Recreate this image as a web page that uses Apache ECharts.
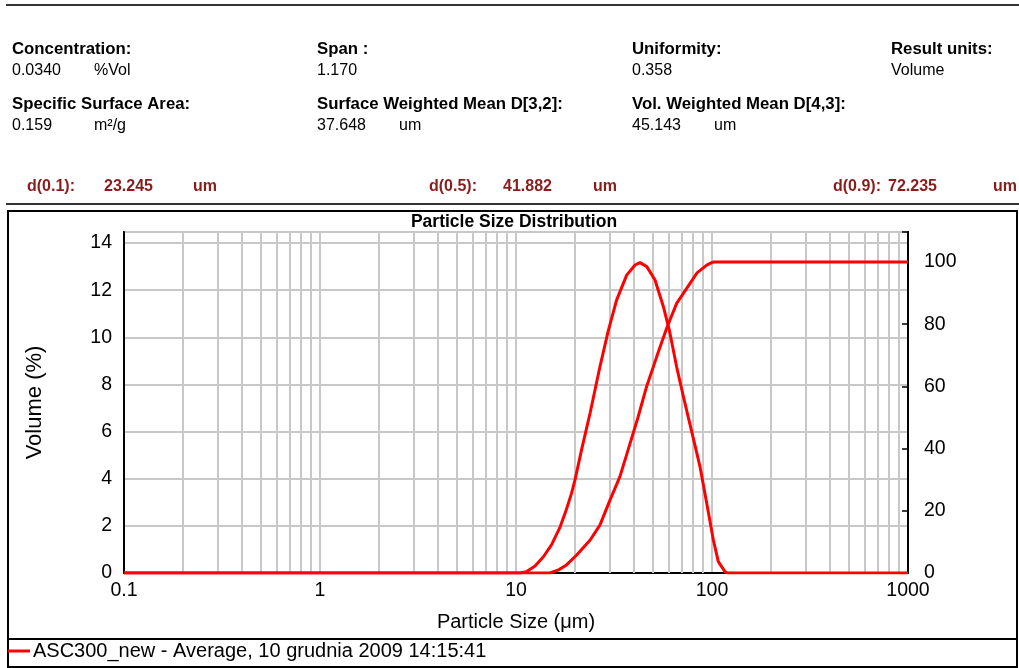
<!doctype html>
<html>
<head>
<meta charset="utf-8">
<title>Particle Size Distribution</title>
<script src="https://cdn.jsdelivr.net/npm/echarts@6/dist/echarts.min.js"></script>
<style>
  html, body { margin: 0; padding: 0; background: #fff; }
  #container { width: 1019px; height: 668px; }
</style>
</head>
<body>
<div id="container"></div>
<script type="text/javascript">
// header texts
var infoLabels = ['Concentration:', 'Span :', 'Uniformity:', 'Result units:',
                  'Specific Surface Area:', 'Surface Weighted Mean D[3,2]:', 'Vol. Weighted Mean D[4,3]:'];
var infoValues = ['0.0340', '1.170', '0.358', 'Volume', '0.159', '37.648', '45.143'];
var infoUnits  = ['%Vol', '', '', '', 'm\u00b2/g', 'um', 'um'];
var dLabels = ['d(0.1):', 'd(0.5):', 'd(0.9):'];
var dValues = ['23.245', '41.882', '72.235'];
var dUnits  = ['um', 'um', 'um'];

var chartTitle = 'Particle Size Distribution';
var sampleName = 'ASC300_new - Average, 10 grudnia 2009 14:15:41';

// frequency curve (Volume %)
var freqSize = [0.1, 10.5, 11.3, 12.5, 13.8, 15.2, 16.8, 18.0, 19.2, 20.0, 21.7, 23.9, 26.8, 29.6,
                32.6, 36.7, 40.5, 42.9, 46.5, 51.2, 56.5, 60.6, 66.0, 71.4, 75.7, 78.8, 86.9,
                94.0, 101.6, 107.7, 116.4, 120, 1000];
var freqVol  = [0, 0, 0.05, 0.3, 0.69, 1.2, 1.96, 2.65, 3.38, 3.95, 5.3, 6.8, 8.75, 10.3,
                11.58, 12.64, 13.07, 13.17, 13.0, 12.43, 11.3, 10.3, 8.75, 7.5, 6.6, 6.0, 4.5,
                2.96, 1.4, 0.48, 0.06, 0, 0];

// cumulative curve (right axis)
var cumSize = [0.1, 14.9, 16.5, 18.1, 20.4, 23.9, 26.8, 30.2, 33.9, 38.2, 41.9, 46.4, 52.2,
               58.7, 66.0, 74.3, 83.6, 94.0, 99.5, 102, 1000];
var cumVol  = [0, 0, 1.0, 2.6, 5.8, 10.6, 15.4, 23.5, 31, 41.7, 50, 60, 69.5,
               78.7, 86.7, 91.5, 96.4, 99.0, 99.8, 100, 100];

var xTicks = [0.1, 1, 10, 100, 1000];

var FONT = '"Liberation Sans", Arial, sans-serif';
var RED = '#ff0000';
var DRED = '#8b1c1c';

function pairs(xs, ys) {
  return xs.map(function (x, i) { return [x, ys[i]]; });
}

// minor log grid lines (2..9 in every decade)
var minorLines = [];
for (var d = 0; d < xTicks.length - 1; d++) {
  for (var k = 2; k <= 9; k++) {
    minorLines.push({ xAxis: +(xTicks[d] * k).toPrecision(3) });
  }
}

// header graphics
var graphics = [];
function txt(s, x, y, font, color) {
  graphics.push({
    type: 'text', x: x, y: y, silent: true,
    style: { text: s, fill: color || '#000', font: font + ' ' + FONT, verticalAlign: 'top' }
  });
}
var colX = [12, 317, 632, 891];
var rowY = [[41, 63], [96, 118]];
for (var i = 0; i < infoLabels.length; i++) {
  var r = i < 4 ? 0 : 1;
  var c = i < 4 ? i : i - 4;
  txt(infoLabels[i], colX[c], rowY[r][0], 'bold 16.8px');
  txt(infoValues[i], colX[c], rowY[r][1], '16px');
  if (infoUnits[i]) txt(infoUnits[i], colX[c] + 82, rowY[r][1], '16px');
}
var dLabelX = [27, 429, 833], dValueX = [104, 503, 888], dUnitX = [193, 593, 993];
for (var j = 0; j < dLabels.length; j++) {
  txt(dLabels[j], dLabelX[j], 179, 'bold 16px', DRED);
  txt(dValues[j], dValueX[j], 179, 'bold 16px', DRED);
  txt(dUnits[j], dUnitX[j], 179, 'bold 16px', DRED);
}
graphics.push(
  { type: 'line', silent: true, shape: { x1: 6, y1: 5, x2: 1019, y2: 5 }, style: { stroke: '#333', lineWidth: 2 } },
  { type: 'line', silent: true, shape: { x1: 6, y1: 204, x2: 1019, y2: 204 }, style: { stroke: '#333', lineWidth: 2 } },
  { type: 'rect', silent: true, shape: { x: 8, y: 211, width: 1009, height: 456 }, style: { fill: 'none', stroke: '#000', lineWidth: 2 } },
  { type: 'line', silent: true, shape: { x1: 8, y1: 639, x2: 1017, y2: 639 }, style: { stroke: '#000', lineWidth: 2 } },
  {
    type: 'text', x: 514, y: 213, silent: true,
    style: { text: chartTitle, fill: '#000', font: 'bold 17.5px ' + FONT, align: 'center', verticalAlign: 'top' }
  }
);

var option = {
  animation: false,
  backgroundColor: '#fff',
  textStyle: { fontFamily: FONT },
  graphic: graphics,
  legend: {
    left: 8, top: 641, padding: 0,
    icon: 'rect', itemWidth: 22, itemHeight: 3,
    selectedMode: false,
    data: [sampleName],
    textStyle: { fontSize: 20, color: '#000', fontFamily: FONT, padding: [0, 0, 0, -2] }
  },
  grid: {
    left: 124, right: 111, top: 232, bottom: 95,
    show: true, borderColor: '#000', borderWidth: 2
  },
  xAxis: {
    type: 'log', logBase: 10, min: 0.1, max: 1000,
    name: 'Particle Size (\u03bcm)', nameLocation: 'middle', nameGap: 39,
    nameTextStyle: { fontSize: 20, color: '#000', fontFamily: FONT },
    axisLine: { show: true, lineStyle: { color: '#000', width: 2 } },
    axisTick: { show: false },
    axisLabel: {
      fontSize: 19.5, color: '#000', margin: 8, fontFamily: FONT,
      formatter: function (v) { return String(+(+v).toPrecision(6)); }
    },
    splitLine: { show: true, lineStyle: { color: '#c8c8c8', width: 2 } }
  },
  yAxis: [{
    type: 'value', min: 0, max: 14.47, interval: 2,
    name: 'Volume (%)', nameLocation: 'middle', nameGap: 78,
    nameTextStyle: { fontSize: 22, color: '#000', fontFamily: FONT },
    axisLine: { show: true, lineStyle: { color: '#000', width: 2 } },
    axisTick: { show: false },
    axisLabel: {
      fontSize: 19.5, color: '#000', margin: 12, fontFamily: FONT,
      formatter: function (v) { return Math.abs(v / 2 - Math.round(v / 2)) < 1e-6 ? String(Math.round(v)) : ''; }
    },
    splitLine: { show: true, lineStyle: { color: '#c8c8c8', width: 2 } }
  }, {
    type: 'value', position: 'right', min: 0, max: 109.65, interval: 20,
    axisLine: { show: true, lineStyle: { color: '#000', width: 2 } },
    axisTick: { show: true, inside: true, length: 6, lineStyle: { color: '#000', width: 1.5 } },
    axisLabel: {
      fontSize: 19.5, color: '#000', margin: 16, fontFamily: FONT,
      formatter: function (v) { return Math.abs(v / 20 - Math.round(v / 20)) < 1e-6 ? String(Math.round(v)) : ''; }
    },
    splitLine: { show: false }
  }],
  series: [{
    name: sampleName,
    type: 'line',
    yAxisIndex: 0,
    data: pairs(freqSize, freqVol),
    showSymbol: false,
    lineStyle: { color: RED, width: 3 },
    itemStyle: { color: RED },
    markLine: {
      silent: true, z: 1, symbol: 'none', animation: false,
      label: { show: false },
      lineStyle: { color: '#c8c8c8', width: 2, type: 'solid' },
      emphasis: { disabled: true },
      data: minorLines
    }
  }, {
    name: sampleName,
    type: 'line',
    yAxisIndex: 1,
    data: pairs(cumSize, cumVol),
    showSymbol: false,
    lineStyle: { color: RED, width: 3 },
    itemStyle: { color: RED }
  }]
};

var myChart = echarts.init(document.getElementById('container'));
myChart.setOption(option);
</script>
</body>
</html>
